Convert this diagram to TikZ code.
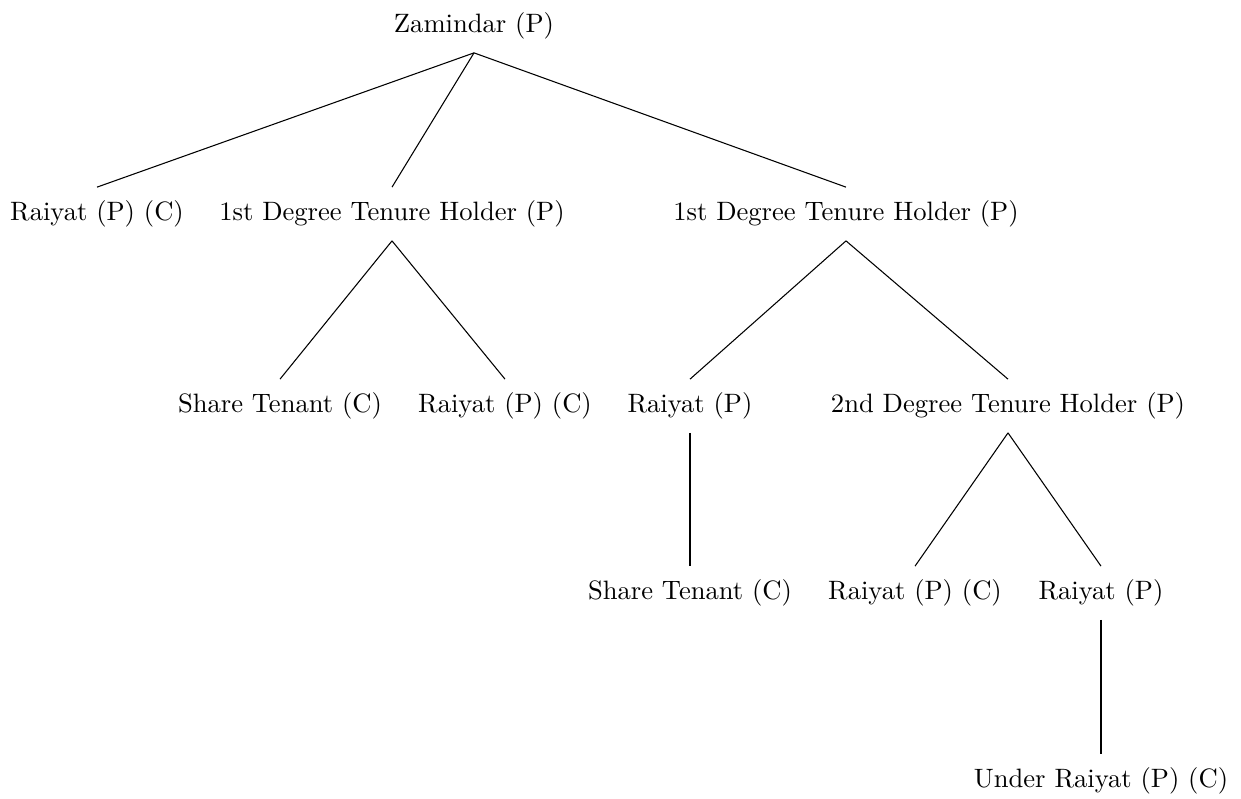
\documentclass[tikz,border=0pt]{standalone}
\begin{document}
\begin{tikzpicture}[x=0.01321cm,y=-0.01321cm,
  lbl/.style={inner xsep=2pt,inner ysep=4.9pt,text height=7.5pt,text depth=2.5pt},
  edge/.style={draw=black,line width=0.4pt}]
\useasboundingbox (0,0) rectangle (1241,798);
\node[lbl] (z) at (474,26) {Zamindar (P)};
\node[lbl] (r1) at (97,214) {Raiyat (P) (C)};
\node[lbl] (t1) at (392,214) {1st Degree Tenure Holder (P)};
\node[lbl] (t2) at (846,214) {1st Degree Tenure Holder (P)};
\node[lbl] (s1) at (280,406) {Share Tenant (C)};
\node[lbl] (r2) at (505,406) {Raiyat (P) (C)};
\node[lbl] (r3) at (690,406) {Raiyat (P)};
\node[lbl] (d2) at (1008,406) {2nd Degree Tenure Holder (P)};
\node[lbl] (s2) at (690,593) {Share Tenant (C)};
\node[lbl] (r4) at (915,593) {Raiyat (P) (C)};
\node[lbl] (r5) at (1101,593) {Raiyat (P)};
\node[lbl] (u) at (1101,781) {Under Raiyat (P) (C)};
\draw[edge] (z.south) -- (r1.north);
\draw[edge] (z.south) -- (t1.north);
\draw[edge] (z.south) -- (t2.north);
\draw[edge] (t1.south) -- (s1.north);
\draw[edge] (t1.south) -- (r2.north);
\draw[edge] (t2.south) -- (r3.north);
\draw[edge] (t2.south) -- (d2.north);
\draw[edge] (r3.south) -- (s2.north);
\draw[edge] (d2.south) -- (r4.north);
\draw[edge] (d2.south) -- (r5.north);
\draw[edge] (r5.south) -- (u.north);
\end{tikzpicture}
\end{document}
